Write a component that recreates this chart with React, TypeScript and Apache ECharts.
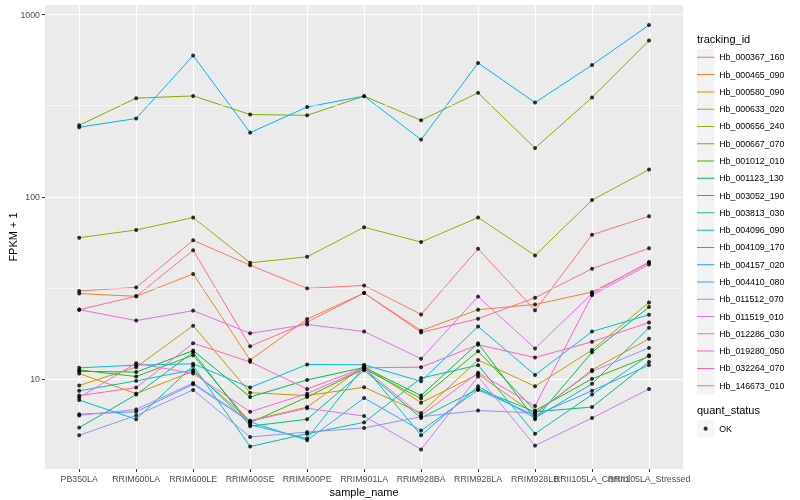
import React, { useEffect, useRef } from "react";
import * as echarts from "echarts";

// ---------- data ----------
const sampleNames = [
  "PB350LA", "RRIM600LA", "RRIM600LE", "RRIM600SE", "RRIM600PE", "RRIM901LA",
  "RRIM928BA", "RRIM928LA", "RRIM928LB", "RRII105LA_Control", "RRII105LA_Stressed",
];

const trackingIds = [
  "Hb_000367_160", "Hb_000465_090", "Hb_000580_090", "Hb_000633_020", "Hb_000656_240",
  "Hb_000667_070", "Hb_001012_010", "Hb_001123_130", "Hb_003052_190", "Hb_003813_030",
  "Hb_004096_090", "Hb_004109_170", "Hb_004157_020", "Hb_004410_080", "Hb_011512_070",
  "Hb_011519_010", "Hb_012286_030", "Hb_019280_050", "Hb_032264_070", "Hb_146673_010",
];

const trackColors = [
  "#F8766D", "#EA8331", "#D89000", "#C09B00", "#A3A500", "#7CAE00", "#39B600", "#00BB4E",
  "#00BF7D", "#00C1A3", "#00BFC4", "#00BAE0", "#00B0F6", "#35A2FF", "#9590FF", "#C77CFF",
  "#E76BF3", "#FA62DB", "#FF62BC", "#FF6C91",
];

// FPKM + 1 per sample, one array per tracking_id
const hb000367_160 = [30.4, 31.8, 57.7, 42.1, 31.4, 32.6, 22.6, 51.8, 23.8, 61.9, 78.2];
const hb000465_090 = [29.4, 28.4, 37.7, 12.7, 21.3, 29.6, 18.4, 24.0, 25.6, 30.0, 43.4];
const hb000580_090 = [10.7, 8.3, 11.0, 5.9, 7.0, 11.75, 7.4, 10.6, 6.4, 11.2, 16.6];
const hb000633_020 = [9.2, 11.6, 19.6, 8.4, 8.1, 9.0, 6.5, 12.7, 9.1, 14.4, 26.3];
const hb000656_240 = [59.6, 65.7, 76.9, 43.4, 46.8, 68.0, 56.4, 76.9, 47.6, 95.9, 141];
const hb000667_070 = [247, 348, 358, 283, 280, 357, 263, 372, 185, 351, 721];
const hb001012_010 = [11.2, 10.3, 13.5, 5.74, 7.95, 11.35, 7.8, 14.2, 6.7, 10.0, 13.3];
const hb001123_130 = [11.0, 10.9, 14.3, 7.95, 9.87, 11.55, 8.1, 15.7, 6.0, 14.0, 24.8];
const hb003052_190 = [5.4, 8.2, 14.0, 5.5, 6.0, 11.15, 6.1, 8.8, 6.6, 7.0, 12.4];
const hb003813_030 = [7.65, 6.0, 11.8, 4.25, 5.0, 5.77, 10.1, 11.9, 5.0, 8.2, 13.5];
const hb004096_090 = [8.6, 9.75, 11.2, 5.6, 4.7, 11.7, 4.9, 9.1, 6.1, 9.4, 19.1];
const hb004109_170 = [11.5, 11.9, 12.1, 8.96, 12.0, 11.95, 9.7, 19.4, 10.5, 18.2, 22.5];
const hb004157_020 = [241, 269, 596, 225, 311, 357, 206, 543, 329, 529, 877];
const hb004410_080 = [6.4, 6.6, 9.35, 5.8, 4.6, 7.85, 5.2, 8.7, 6.3, 8.6, 11.9];
const hb011512_070 = [4.9, 6.3, 8.7, 4.8, 5.1, 5.38, 6.2, 6.7, 6.5, 11.0, 14.8];
const hb011519_010 = [6.3, 6.8, 9.5, 5.86, 6.9, 6.25, 4.1, 10.3, 4.3, 6.1, 8.8];
const hb012286_030 = [24.0, 20.9, 23.7, 17.8, 19.9, 18.2, 12.9, 28.3, 14.7, 29.4, 43.9];
const hb019280_050 = [7.9, 12.2, 10.7, 6.6, 8.3, 11.4, 6.3, 10.8, 7.1, 28.8, 42.5];
const hb032264_070 = [8.1, 8.96, 15.7, 12.4, 8.8, 11.5, 11.6, 15.4, 13.1, 16.0, 20.4];
const hb146673_010 = [24.0, 28.4, 50.9, 15.1, 20.5, 29.6, 18.0, 21.4, 27.9, 40.3, 52.2];

const seriesValues = [
  hb000367_160, hb000465_090, hb000580_090, hb000633_020, hb000656_240,
  hb000667_070, hb001012_010, hb001123_130, hb003052_190, hb003813_030,
  hb004096_090, hb004109_170, hb004157_020, hb004410_080, hb011512_070,
  hb011519_010, hb012286_030, hb019280_050, hb032264_070, hb146673_010,
];

const quantStatus = ["OK"];
const yTicks = [10, 100, 1000];

// ---------- chart ----------
const FONT = '"Liberation Sans", Arial, Helvetica, sans-serif';

const lineIcon =
  "path://M0,0h0.01v0.01h-0.01z M0,8.14h17.28v1h-17.28z M17.27,17.27h0.01v0.01h-0.01z";
const dotIcon =
  "path://M0,0h0.01v0.01h-0.01z M17.27,17.27h0.01v0.01h-0.01z M6.54,8.64a2.1,2.1 0 1,0 4.2,0a2.1,2.1 0 1,0 -4.2,0z";

export default function App() {
  const ref = useRef<HTMLDivElement>(null);

  useEffect(() => {
    if (!ref.current) return;
    const chart = echarts.init(ref.current, null, { renderer: "svg" });

    const minorY = yTicks.slice(1).map((t, i) => Math.sqrt(t * yTicks[i]));
    const sampleIdx = sampleNames.map((_, i) => i);
    const evenIdx = sampleIdx.filter((i) => i % 2 === 0);
    const oddIdx = sampleIdx.filter((i) => i % 2 === 1);

    const lineSeries = trackingIds.map((name, k) => ({
      name,
      type: "line",
      data: seriesValues[k].map((v, i) => [i, v]),
      color: trackColors[k],
      lineStyle: { width: 1, color: trackColors[k] },
      symbol: "none",
      showSymbol: false,
      silent: true,
      z: 2,
    }));

    const pointData = seriesValues.flatMap((vals) => vals.map((v, i) => [i, v]));

    const legendBase = {
      orient: "vertical",
      left: 697,
      itemWidth: 17.28,
      itemHeight: 17.28,
      itemGap: 0,
      padding: 0,
      selectedMode: false,
      textStyle: { fontSize: 8.8, fontFamily: FONT, color: "#000" },
    };

    const xLabelStyle = {
      formatter: (v: number) => sampleNames[v] ?? "",
      color: "#4D4D4D",
      fontSize: 8.8,
      fontFamily: FONT,
      margin: 5,
      hideOverlap: false,
      showMinLabel: true,
      showMaxLabel: true,
    };

    const xBase = {
      type: "value",
      min: -0.6,
      max: sampleNames.length - 1 + 0.6,
      minInterval: 1,
      maxInterval: 1,
      position: "bottom",
      offset: 0,
    };

    chart.setOption({
      animation: false,
      textStyle: { fontFamily: FONT },
      grid: {
        left: 45,
        right: 116.8,
        top: 5,
        bottom: 31,
        containLabel: false,
        outerBoundsMode: "none",
        show: true,
        backgroundColor: "#EBEBEB",
        borderWidth: 0,
      },
      xAxis: [
        {
          ...xBase,
          axisLine: { show: false, onZero: false },
          axisTick: {
            show: true,
            length: 3,
            lineStyle: { color: "#333", width: 1 },
            customValues: sampleIdx,
          },
          axisLabel: { ...xLabelStyle, customValues: evenIdx },
          splitLine: { show: true, lineStyle: { color: "#FFFFFF", width: 1.07 } },
          name: "sample_name",
          nameLocation: "middle",
          nameGap: 17,
          nameMoveOverlap: false,
          nameTextStyle: { fontSize: 11, fontFamily: FONT, color: "#000" },
        },
        {
          ...xBase,
          axisLine: { show: false, onZero: false },
          axisTick: { show: false },
          axisLabel: { ...xLabelStyle, customValues: oddIdx },
          splitLine: { show: false },
        },
      ],
      yAxis: {
        type: "log",
        logBase: 10,
        min: 3.2,
        max: 1130,
        axisLine: { show: false, onZero: false },
        axisTick: {
          show: true,
          length: 3,
          lineStyle: { color: "#333", width: 1 },
          customValues: yTicks,
        },
        axisLabel: {
          customValues: yTicks,
          formatter: (v: number) => {
            const e = Math.log10(v);
            return Math.abs(e - Math.round(e)) < 1e-6 ? String(Math.round(v)) : "";
          },
          color: "#4D4D4D",
          fontSize: 8.8,
          fontFamily: FONT,
          margin: 5,
          showMinLabel: true,
          showMaxLabel: true,
        },
        splitLine: { show: true, lineStyle: { color: "#FFFFFF", width: 1.07 } },
        name: "FPKM + 1",
        nameLocation: "middle",
        nameGap: 27,
        nameMoveOverlap: false,
        nameTextStyle: { fontSize: 11, fontFamily: FONT, color: "#000" },
      },
      legend: [
        {
          ...legendBase,
          top: 48.7,
          data: trackingIds,
          icon: "rect",
          itemStyle: { color: "#F2F2F2", borderWidth: 0 },
          textStyle: { ...legendBase.textStyle, color: "transparent" },
          z: 3,
        },
        {
          ...legendBase,
          top: 48.7,
          data: trackingIds,
          icon: lineIcon,
          itemStyle: { borderWidth: 0 },
          z: 4,
        },
        {
          ...legendBase,
          top: 420,
          data: quantStatus,
          icon: "rect",
          itemStyle: { color: "#F2F2F2", borderWidth: 0 },
          textStyle: { ...legendBase.textStyle, color: "transparent" },
          z: 3,
        },
        {
          ...legendBase,
          top: 420,
          data: quantStatus,
          icon: dotIcon,
          itemStyle: { color: "#000", borderWidth: 0 },
          z: 4,
        },
      ],
      graphic: [
        {
          type: "text",
          left: 697,
          top: 33.5,
          style: { text: "tracking_id", fontSize: 11, fontFamily: FONT, fill: "#000" },
        },
        {
          type: "text",
          left: 697,
          top: 404.5,
          style: { text: "quant_status", fontSize: 11, fontFamily: FONT, fill: "#000" },
        },
      ],
      series: [
        {
          name: "minor-grid",
          type: "line",
          data: [],
          silent: true,
          z: 1,
          markLine: {
            silent: true,
            symbol: "none",
            label: { show: false },
            lineStyle: { color: "#FFFFFF", width: 0.55, type: "solid" },
            emphasis: { disabled: true },
            data: minorY.map((y) => ({ yAxis: y })),
          },
        },
        ...lineSeries,
        {
          name: quantStatus[0],
          type: "scatter",
          data: pointData,
          symbol: "circle",
          symbolSize: 4,
          itemStyle: { color: "#000" },
          silent: true,
          z: 5,
        },
      ],
    });

    return () => chart.dispose();
  }, []);

  return (
    <div
      ref={ref}
      style={{ position: "fixed", left: 0, top: 0, width: 800, height: 500 }}
    />
  );
}
